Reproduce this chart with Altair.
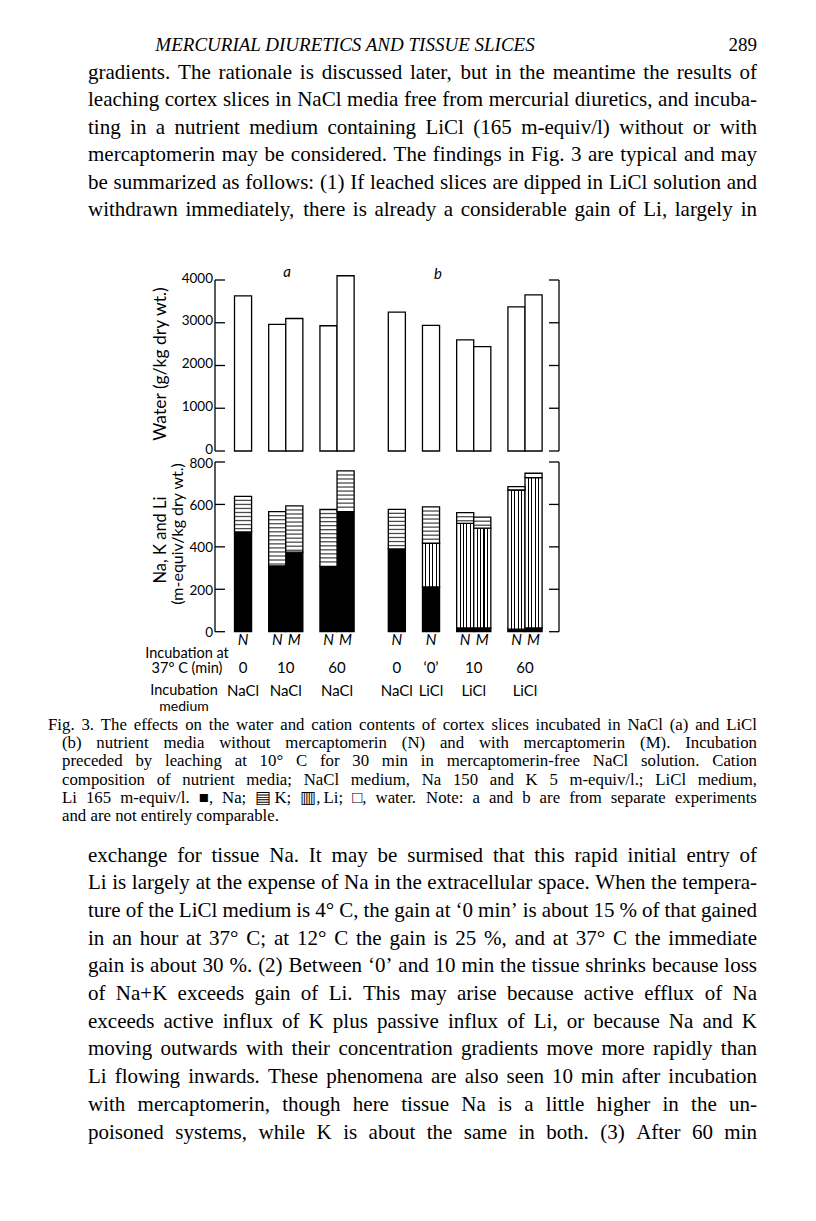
import altair as alt
import pandas as pd

# ---------------- data ----------------
keys = ["a-0-N", "a-10-N", "a-10-M", "a-60-N", "a-60-M",
        "b-0-N", "b-q0-N", "b-10-N", "b-10-M", "b-60-N", "b-60-M"]
treat = ["N", "N", "M", "N", "M", "N", "N", "N", "M", "N", "M"]
water = [3630, 2960, 3100, 2930, 4100, 3250, 2940, 2600, 2440, 3370, 3650]
na = [470, 310, 375, 308, 566, 390, 211, 18, 18, 12, 18]
li = [0, 0, 0, 0, 0, 0, 206, 493, 470, 656, 708]
k = [168, 256, 218, 268, 192, 187, 171, 50, 52, 16, 21]

group_first = ["a-0-N", "a-10-N", "a-60-N", "b-0-N", "b-q0-N", "b-10-N", "b-60-N"]
group_size = [1, 2, 2, 1, 1, 2, 2]
times = ["0", "10", "60", "0", "\u20180\u2019", "10", "60"]
media = ["NaCl", "NaCl", "NaCl", "NaCl", "LiCl", "LiCl", "LiCl"]

water_ticks = [0, 1000, 2000, 3000, 4000]
ion_ticks = [0, 200, 400, 600, 800]

header = "MERCURIAL DIURETICS AND TISSUE SLICES"
page_no = "289"
top_lines = [
    "gradients. The rationale is discussed later, but in the meantime the results of",
    "leaching cortex slices in NaCl media free from mercurial diuretics, and incuba-",
    "ting in a nutrient medium containing LiCl (165 m-equiv/l) without or with",
    "mercaptomerin may be considered. The findings in Fig. 3 are typical and may",
    "be summarized as follows: (1) If leached slices are dipped in LiCl solution and",
    "withdrawn immediately, there is already a considerable gain of Li, largely in",
]
caption_first = ["Fig. 3. The effects on the water and cation contents of cortex slices incubated in NaCl (a) and LiCl"]
caption_rest = [
    "(b) nutrient media without mercaptomerin (N) and with mercaptomerin (M). Incubation",
    "preceded by leaching at 10\u00b0 C for 30 min in mercaptomerin-free NaCl solution. Cation",
    "composition of nutrient media; NaCl medium, Na 150 and K 5 m-equiv/l.; LiCl medium,",
    "Li 165 m-equiv/l. \u25a0, Na; \u25a4 K; \u25a5, Li; \u25a1, water. Note: a and b are from separate experiments",
    "and are not entirely comparable.",
]
bottom_lines = [
    "exchange for tissue Na. It may be surmised that this rapid initial entry of",
    "Li is largely at the expense of Na in the extracellular space. When the tempera-",
    "ture of the LiCl medium is 4\u00b0 C, the gain at \u20180 min\u2019 is about 15 % of that gained",
    "in an hour at 37\u00b0 C; at 12\u00b0 C the gain is 25 %, and at 37\u00b0 C the immediate",
    "gain is about 30 %. (2) Between \u20180\u2019 and 10 min the tissue shrinks because loss",
    "of Na+K exceeds gain of Li. This may arise because active efflux of Na",
    "exceeds active influx of K plus passive influx of Li, or because Na and K",
    "moving outwards with their concentration gradients move more rapidly than",
    "Li flowing inwards. These phenomena are also seen 10 min after incubation",
    "with mercaptomerin, though here tissue Na is a little higher in the un-",
    "poisoned systems, while K is about the same in both. (3) After 60 min",
]

# ---------------- tables ----------------
df = pd.DataFrame({"key": keys, "treat": treat, "water": water})
rows = []
for i, kk in enumerate(keys):
    base = 0
    for ion, v in (("Na", na[i]), ("Li", li[i]), ("K", k[i])):
        if v > 0:
            rows.append({"key": kk, "ion": ion, "y0": base, "y1": base + v})
        base += v
seg = pd.DataFrame(rows)
grp = pd.DataFrame({"key": group_first, "size": group_size, "time": times, "medium": media})

# ---------------- justified page text (Times metrics) ----------------
AFM = {' ': 250, '!': 333, '%': 833, "'": 180, '(': 333, ')': 333, '+': 564, ',': 250,
       '-': 333, '.': 250, '/': 278, ':': 278, ';': 278, '\u00b0': 400, '\u2018': 333, '\u2019': 333}
AFM.update({d: 500 for d in "0123456789"})
AFM.update(dict(zip("ABCDEFGHIJKLMNOPQRSTUVWXYZ",
                    [722, 667, 667, 722, 611, 556, 722, 722, 333, 389, 722, 611, 889, 722, 722,
                     556, 722, 667, 556, 611, 722, 722, 944, 722, 722, 611])))
AFM.update(dict(zip("abcdefghijklmnopqrstuvwxyz",
                    [444, 500, 444, 500, 444, 333, 500, 500, 278, 278, 500, 278, 778, 500, 500,
                     500, 500, 333, 389, 278, 500, 500, 722, 500, 500, 444])))


def wwidth(w, fs):
    return sum(AFM.get(c, 600) for c in w) * fs / 1000.0


def justify(lines, x0, x1, y0, lh, fs, last=True):
    out = []
    for i, line in enumerate(lines):
        words = line.split(" ")
        ws = [wwidth(w, fs) for w in words]
        if (last or i < len(lines) - 1) and len(words) > 1:
            gap = (x1 - x0 - sum(ws)) / (len(words) - 1)
        else:
            gap = 0.25 * fs
        x = x0
        for w, wv in zip(words, ws):
            out.append({"w": w, "x": x, "y": y0 + i * lh})
            x += wv + gap
    return pd.DataFrame(out)

# ---------------- scales / styles ----------------
SANS = "Lato"
SERIF = "Liberation Serif"
slots = ["a-0-N", "g1", "a-10-N", "a-10-M", "g2", "a-60-N", "a-60-M", "g3", "g4",
         "b-0-N", "g5", "b-q0-N", "g6", "b-10-N", "b-10-M", "g7", "b-60-N", "b-60-M"]
xscale = alt.Scale(type="band", domain=slots, range=[226.5, 534.1], paddingInner=0, paddingOuter=0)
wscale = alt.Scale(domain=[0, 4000], range=[443, 272], nice=False, zero=True)
iscale = alt.Scale(domain=[0, 800], range=[623.7, 454], nice=False, zero=True)
pix = alt.Scale(domain=[0, 1000], range=[0, 1000])
X = alt.X("key:N", scale=xscale, axis=None)
SW = 1.3

stops = [alt.GradientStop(color="white", offset=0)]
for c in [0.2, 0.4, 0.6, 0.8]:
    stops += [alt.GradientStop(color="white", offset=c - 0.032),
              alt.GradientStop(color="black", offset=c - 0.032),
              alt.GradientStop(color="black", offset=c + 0.032),
              alt.GradientStop(color="white", offset=c + 0.032)]
stops.append(alt.GradientStop(color="white", offset=1))
li_fill = alt.LinearGradient(gradient="linear", stops=stops, x1=0, x2=1, y1=0, y2=0)

layers = []

# water bars
layers.append(alt.Chart(df).mark_bar(fill="white", stroke="black", strokeWidth=SW).encode(
    x=X, y=alt.Y("water:Q", scale=wscale, axis=None)))


def seg_layer(ion, **mk):
    return alt.Chart(seg).transform_filter(f"datum.ion == '{ion}'").mark_bar(
        stroke="black", strokeWidth=SW, **mk).encode(
        x=X, y=alt.Y("y0:Q", scale=iscale, axis=None), y2="y1:Q")


layers.append(seg_layer("Na", fill="black"))
layers.append(seg_layer("Li", fill=li_fill))
layers.append(seg_layer("K", fill="white"))

# K horizontal hatching
layers.append(alt.Chart(seg).transform_filter("datum.ion == 'K'").transform_calculate(
    s="sequence(datum.y1 - 19, datum.y0 + 4, -19)").transform_flatten(["s"]).mark_tick(
    orient="horizontal", thickness=1.3, size=17, color="black").encode(
    x=X, y=alt.Y("s:Q", scale=iscale, axis=None)))


def axis(ticks, scale, xline, direction, labels, dy=0):
    t = pd.DataFrame({"v": ticks})
    ext = pd.DataFrame({"lo": [min(ticks)], "hi": [max(ticks)]})
    out = [
        alt.Chart(ext).mark_rule(color="black", strokeWidth=SW).encode(
            x=alt.value(xline), y=alt.Y("lo:Q", scale=scale, axis=None), y2="hi:Q"),
        alt.Chart(t).mark_rule(color="black", strokeWidth=SW).encode(
            x=alt.value(xline), x2=alt.value(xline + direction * 10),
            y=alt.Y("v:Q", scale=scale, axis=None)),
    ]
    if labels:
        out.append(alt.Chart(t).mark_text(align="right", baseline="middle", font=SANS,
                                          fontSize=13.5, dy=dy, color="black").encode(
            x=alt.value(xline - 2), y=alt.Y("v:Q", scale=scale, axis=None),
            text=alt.Text("v:Q", format="d")))
    return out


layers += axis(water_ticks, wscale, 207, 1, True, dy=-1.5)
layers += axis(ion_ticks, iscale, 207, 1, True, dy=1.5)
layers += axis(water_ticks, wscale, 551, -1, False)
layers += axis(ion_ticks, iscale, 551, -1, False)

one = pd.DataFrame({"_": [0]})


def txt(text, x, y, size, font=SANS, align="center", baseline="middle", **kw):
    return alt.Chart(one).mark_text(text=text, font=font, fontSize=size, align=align,
                                    baseline=baseline, color="black", **kw).encode(
        x=alt.value(x), y=alt.value(y))


layers.append(txt("Water (g/kg dry wt.)", 153, 356, 17.5, angle=270))
layers.append(txt("Na, K and Li", 153, 532, 16.5, angle=270))
layers.append(txt("(m-equiv/kg dry wt.)", 170, 526, 16, angle=270))
layers.append(txt("a", 279, 264, 15, fontStyle="italic"))
layers.append(txt("b", 430, 266, 15, fontStyle="italic"))

# N / M under bars
layers.append(alt.Chart(df).mark_text(font=SANS, fontSize=15, fontStyle="italic",
                                      baseline="middle", color="black").encode(
    x=X, y=alt.value(632), text="treat:N"))

for size, dx in ((1, 0), (2, 8.55)):
    g = alt.Chart(grp).transform_filter(f"datum.size == {size}")
    layers.append(g.mark_text(font=SANS, fontSize=15, baseline="middle", dx=dx, color="black").encode(
        x=X, y=alt.value(660), text="time:N"))
    layers.append(g.mark_text(font=SANS, fontSize=15, baseline="middle", dx=dx, color="black").encode(
        x=X, y=alt.value(683), text="medium:N"))

layers.append(txt("Incubation at", 179, 646, 14.5))
layers.append(txt("37\u00b0 C (min)", 179, 661, 14.5))
layers.append(txt("Incubation", 176, 683, 14.5))
layers.append(txt("medium", 176, 698.5, 14))

# page text
layers.append(txt(header, 337, 43, 19, font=SERIF, fontStyle="italic", baseline="alphabetic"))
layers.append(txt(page_no, 749, 43, 19, font=SERIF, align="right", baseline="alphabetic"))


def words_layer(frame, fs):
    return alt.Chart(frame).mark_text(font=SERIF, fontSize=fs, align="left",
                                      baseline="alphabetic", color="black").encode(
        x=alt.X("x:Q", scale=pix, axis=None), y=alt.Y("y:Q", scale=pix, axis=None), text="w:N")


BODY = 21
CAP = 16.8
layers.append(words_layer(justify(top_lines, 80, 749, 70.5, 27.5, BODY), BODY))
layers.append(words_layer(justify(caption_first, 40, 749, 722, 18.2, CAP), CAP))
layers.append(words_layer(justify(caption_rest, 54, 749, 740.2, 18.2, CAP, last=False), CAP))
layers.append(words_layer(justify(bottom_lines, 80, 749, 853.5, 27.7, BODY), BODY))

chart = alt.layer(*layers).resolve_scale(y="independent", x="independent").properties(
    width=800, height=1205, padding=0, autosize=alt.AutoSizeParams(type="none"),
    background="white").configure_view(stroke=None)

chart.save("out.html", embed_options={"renderer": "svg", "actions": False})
